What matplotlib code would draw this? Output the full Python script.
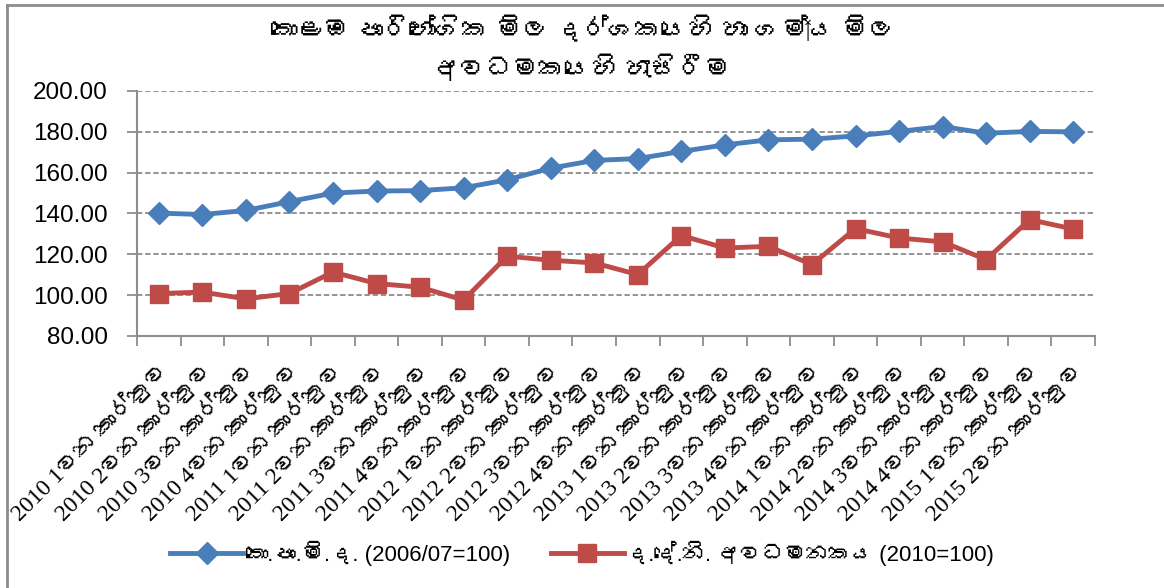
import matplotlib
matplotlib.use("Agg")
import matplotlib.pyplot as plt
from matplotlib import font_manager
from matplotlib.lines import Line2D
from matplotlib.transforms import ScaledTranslation

# ---------------- data ----------------
years = [2010, 2010, 2010, 2010, 2011, 2011, 2011, 2011, 2012, 2012, 2012,
         2012, 2013, 2013, 2013, 2013, 2014, 2014, 2014, 2014, 2015, 2015]
quarters = [1, 2, 3, 4, 1, 2, 3, 4, 1, 2, 3, 4, 1, 2, 3, 4, 1, 2, 3, 4, 1, 2]
categories = [f"{y} {q}වන කාර්තුව" for y, q in zip(years, quarters)]

ccpi = [140.2, 139.5, 141.5, 145.8, 150.0, 151.0, 151.2, 152.6, 156.5, 162.2, 166.0,
        166.9, 170.4, 173.6, 176.1, 176.4, 178.0, 180.2, 182.6, 179.3, 180.2, 180.0]
deflator = [100.8, 101.5, 98.2, 100.8, 111.3, 105.7, 103.9, 97.6, 119.1, 117.1, 115.8,
            110.1, 129.2, 123.1, 123.9, 115.0, 132.6, 128.0, 126.1, 117.4, 137.0, 132.4]

series_names = ["කො.පා.මි.ද. (2006/07=100)", "ද.දේ.නි. අවධමනකය (2010=100)"]
title_lines = ["කොළඹ පාරිභෝගික මිල දර්ශකයෙහි හා ගම්‍ය මිල", "අවධමකයෙහි හැසිරීම"]
yticks = [80, 100, 120, 140, 160, 180, 200]

# ---------------- fonts ----------------
def sinhala_fonts():
    names = []
    try:
        from fontTools.ttLib import TTFont
        for f in font_manager.fontManager.ttflist:
            if f.name in names:
                continue
            try:
                tt = TTFont(f.fname, fontNumber=0, lazy=True)
                cmap = tt.getBestCmap()
                if cmap and 0x0D9A in cmap:
                    names.append(f.name)
            except Exception:
                pass
    except Exception:
        pass
    return names

sin = sinhala_fonts()
sans = ["Liberation Sans"] + sin + ["DejaVu Sans"]
serif = ["Liberation Serif"] + sin + ["DejaVu Serif", "DejaVu Sans"]

# ---------------- figure ----------------
fig = plt.figure(figsize=(11.64, 5.88), dpi=100)
ax = fig.add_axes([137 / 1164, 1 - 336 / 588, (1095 - 137) / 1164, (336 - 91) / 588])

blue = "#4a7ebb"
red = "#be4b48"
x = list(range(len(categories)))
ax.plot(x, ccpi, color=blue, lw=3.5, marker="D", ms=11, mec=blue, mfc=blue,
        label=series_names[0], zorder=3)
ax.plot(x, deflator, color=red, lw=3.5, marker="s", ms=13, mec=red, mfc=red,
        label=series_names[1], zorder=3)

ax.set_xlim(-0.5, len(categories) - 0.5)
ax.set_ylim(80, 200)
ax.set_yticks(yticks)
ax.set_yticklabels([f"{v:.2f}" for v in yticks], fontsize=17.5, family=sans)
ax.yaxis.grid(True, color="#8c8c8c", ls=(0, (3, 1.5)), lw=1.3)
ax.set_axisbelow(True)

ax.set_xticks(x)
ax.set_xticklabels(categories, rotation=45, ha="right", va="center",
                   rotation_mode="anchor", fontsize=17, family=serif)
ax.tick_params(axis="x", which="major", length=0, pad=22)
shift = ScaledTranslation(6 / 100, 0, fig.dpi_scale_trans)
for lab in ax.get_xticklabels():
    lab.set_transform(lab.get_transform() + shift)
ax.set_xticks([i - 0.5 for i in range(len(categories) + 1)], minor=True)
ax.tick_params(axis="x", which="minor", length=7, color="#8c8c8c", width=1.3,
               direction="out")
ax.tick_params(axis="y", length=7, color="#8c8c8c", width=1.3, pad=14)

for s in ["top", "right"]:
    ax.spines[s].set_visible(False)
for s in ["left", "bottom"]:
    ax.spines[s].set_color("#8c8c8c")
    ax.spines[s].set_linewidth(1.5)

fig.text(0.5, 1 - 30 / 588, title_lines[0], ha="center", va="center", fontsize=19,
         fontweight="bold", family=sans)
fig.text(0.5, 1 - 68 / 588, title_lines[1], ha="center", va="center", fontsize=19,
         fontweight="bold", family=sans)

handles = [Line2D([], [], color=blue, lw=3.5, marker="D", ms=11),
           Line2D([], [], color=red, lw=3.5, marker="s", ms=13)]
fig.legend(handles, series_names, loc="center", bbox_to_anchor=(0.5, 1 - 553 / 588),
           ncol=2, frameon=False, prop={"family": sans, "size": 16},
           handlelength=3.3, handletextpad=0.1, columnspacing=1.8)

# chart border
fig.add_artist(Line2D([7 / 1164, 7 / 1164], [0, 1 - 5 / 588], transform=fig.transFigure,
                      color="#8c8c8c", lw=2))
fig.add_artist(Line2D([7 / 1164, 1], [1 - 5 / 588, 1 - 5 / 588], transform=fig.transFigure,
                      color="#8c8c8c", lw=2))

fig.savefig("out.png", dpi=100, facecolor="white")
